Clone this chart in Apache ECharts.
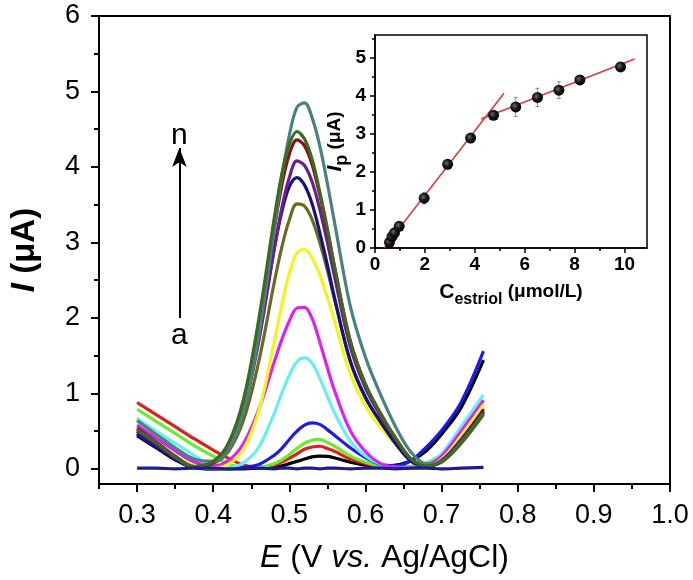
<!DOCTYPE html>
<html><head><meta charset="utf-8">
<script src="https://cdn.jsdelivr.net/npm/echarts@6/dist/echarts.min.js"></script>
<style>html,body{margin:0;padding:0;background:#fff}#c{width:693px;height:580px}</style>
</head><body><div id="c"></div>
<script>
// ---------- main chart data (E in V, I in µA) ----------
const potentials = [0.300,0.325,0.350,0.375,0.400,0.420,0.440,0.460,0.480,0.490,0.500,0.510,0.520,0.530,0.540,0.550,0.560,0.580,0.600,0.620,0.640,0.660,0.680,0.700,0.725,0.755];
const curve_a = [0.01,0.01,0.00,0.01,0.01,0.00,0.01,0.01,0.00,0.01,0.01,0.00,0.01,0.01,0.00,0.01,0.01,0.00,0.01,0.01,0.00,0.01,0.01,0.00,0.01,0.02];
const curve_b = [0.44,0.28,0.12,0.02,0.00,0.00,0.00,0.01,0.02,0.04,0.07,0.10,0.13,0.16,0.17,0.165,0.145,0.09,0.05,0.03,0.05,0.11,0.24,0.46,0.80,1.44];
const curve_c = [0.88,0.72,0.56,0.40,0.25,0.14,0.05,0.02,0.05,0.09,0.14,0.20,0.26,0.29,0.30,0.27,0.23,0.13,0.07,0.03,0.02,0.03,0.07,0.17,0.42,0.80];
const curve_d = [0.79,0.63,0.47,0.31,0.17,0.07,0.02,0.02,0.07,0.12,0.19,0.27,0.34,0.38,0.39,0.35,0.30,0.17,0.09,0.04,0.02,0.03,0.08,0.19,0.45,0.86];
const curve_e = [0.46,0.30,0.14,0.03,0.00,0.01,0.02,0.06,0.18,0.27,0.39,0.50,0.58,0.61,0.59,0.52,0.44,0.28,0.15,0.06,0.04,0.11,0.29,0.51,0.87,1.56];
const curve_f = [0.67,0.50,0.34,0.18,0.03,0.02,0.08,0.29,0.73,1.00,1.24,1.42,1.47,1.40,1.20,0.96,0.73,0.37,0.17,0.06,0.02,0.02,0.06,0.20,0.55,0.98];
const curve_g = [0.58,0.41,0.24,0.09,0.04,0.11,0.34,0.79,1.41,1.71,1.96,2.13,2.14,1.99,1.68,1.34,1.02,0.51,0.23,0.07,0.02,0.01,0.05,0.17,0.49,0.91];
const curve_h = [0.52,0.35,0.17,0.04,0.01,0.06,0.26,0.77,1.67,2.16,2.59,2.86,2.91,2.79,2.57,2.27,1.94,1.26,0.83,0.55,0.32,0.12,0.04,0.13,0.43,0.85];
const curve_i = [0.50,0.33,0.15,0.02,0.07,0.23,0.65,1.43,2.46,2.93,3.30,3.51,3.48,3.30,3.00,2.63,2.22,1.43,0.94,0.62,0.35,0.12,0.04,0.10,0.36,0.74];
const curve_j = [0.47,0.31,0.13,0.02,0.09,0.30,0.83,1.77,2.91,3.40,3.74,3.86,3.76,3.51,3.13,2.70,2.24,1.43,0.95,0.62,0.33,0.10,0.04,0.11,0.38,0.78];
const curve_k = [0.50,0.33,0.15,0.02,0.08,0.28,0.78,1.70,2.90,3.45,3.86,4.08,4.02,3.80,3.44,3.00,2.52,1.62,1.07,0.70,0.39,0.13,0.04,0.11,0.37,0.76];
const curve_l = [0.54,0.36,0.17,0.03,0.09,0.31,0.87,1.88,3.17,3.75,4.17,4.36,4.28,4.03,3.63,3.16,2.64,1.70,1.12,0.73,0.40,0.13,0.04,0.10,0.35,0.75];
const curve_m = [0.52,0.35,0.16,0.03,0.10,0.34,0.93,1.99,3.31,3.90,4.30,4.47,4.37,4.10,3.67,3.18,2.65,1.69,1.12,0.73,0.40,0.13,0.04,0.09,0.33,0.72];
const curve_n = [0.64,0.46,0.28,0.13,0.10,0.26,0.77,1.78,3.17,3.86,4.42,4.79,4.85,4.65,4.28,3.78,3.23,2.16,1.48,0.98,0.55,0.22,0.07,0.10,0.34,0.73];

const mainXTickLabels = [0.3,0.4,0.5,0.6,0.7,0.8,0.9,1.0];
const mainXMinorTicks = [0.25,0.35,0.45,0.55,0.65,0.75,0.85,0.95];
const mainYTickLabels = [0,1,2,3,4,5,6];
const mainYMinorTicks = [0.5,1.5,2.5,3.5,4.5,5.5];

// arrow annotation a -> n
const arrowE = 0.3556;
const arrowFromI = 2.0;
const arrowToI = 4.25;
const arrowTexts = [[0.3556, 4.42, 'n'], [0.3556, 1.76, 'a']];

// ---------- inset data ----------
const insetConc = [0.58,0.68,0.78,0.97,1.97,2.91,3.83,4.75,5.64,6.51,7.37,8.21,9.84];
const insetIp   = [0.15,0.30,0.40,0.57,1.31,2.20,2.89,3.49,3.71,3.96,4.15,4.42,4.76];
const insetErr  = [0.05,0.05,0.05,0.06,0.15,0.06,0.07,0.08,0.25,0.24,0.22,0.07,0.06];
const fitLow  = [[0.36,0.00],[5.17,4.07]];
const fitHigh = [[4.25,3.39],[10.4,4.97]];
const insetXTickLabels = [0,2,4,6,8,10];
const insetXMinorTicks = [1,3,5,7,9];
const insetYTickLabels = [0,1,2,3,4,5];
const insetYMinorTicks = [0.5,1.5,2.5,3.5,4.5,5.5];

// ---------- styles ----------
const FONT = "'Liberation Sans', Arial, sans-serif";
const curveColors = {
  a:'#1c1c8c', b:'#000000', c:'#e01e1e', d:'#66ee2e', e:'#1a1aee', f:'#66eef0',
  g:'#dd22ee', h:'#f4f41a', i:'#6b6b20', j:'#14147e', k:'#6c1e8a', l:'#7e1818',
  m:'#3d6b1e', n:'#4a8282'
};
const curves = {a:curve_a,b:curve_b,c:curve_c,d:curve_d,e:curve_e,f:curve_f,g:curve_g,
  h:curve_h,i:curve_i,j:curve_j,k:curve_k,l:curve_l,m:curve_m,n:curve_n};
const drawOrder = ['b','c','d','e','f','g','h','i','j','k','l','n','m','a'];

const chart = echarts.init(document.getElementById('c'), null, {renderer:'canvas'});

const series = drawOrder.map(key => ({
  name: key, type:'line', xAxisIndex:0, yAxisIndex:0,
  data: potentials.map((e, idx) => [e, curves[key][idx]]),
  showSymbol:false, symbol:'none', smooth:0.35,
  lineStyle:{color:curveColors[key], width:3.2},
  z: 3, silent:true
}));

series.push({
  type:'scatter', xAxisIndex:0, yAxisIndex:0, symbolSize:1, silent:true,
  data: arrowTexts,
  itemStyle:{color:'rgba(0,0,0,0)', opacity:1},
  label:{show:true, position:'inside', formatter:p=>p.data[2], fontSize:30, color:'#000', opacity:1, fontFamily:FONT},
  markLine:{
    silent:true, symbol:['none','arrow'], symbolSize:[11,19],
    lineStyle:{color:'#000', width:2, type:'solid', opacity:1},
    label:{show:false},
    data:[[{coord:[arrowE, arrowFromI]},{coord:[arrowE, arrowToI]}]]
  },
  z: 4
});

// inset fit lines
series.push({type:'line', xAxisIndex:2, yAxisIndex:2, data:fitLow, showSymbol:false, symbol:'none',
  lineStyle:{color:'#e03a3a', width:1.6}, z:6, silent:true});
series.push({type:'line', xAxisIndex:2, yAxisIndex:2, data:fitHigh, showSymbol:false, symbol:'none',
  lineStyle:{color:'#e03a3a', width:1.6}, z:6, silent:true});
// error bars
series.push({
  type:'custom', xAxisIndex:2, yAxisIndex:2, z:7, silent:true,
  data: insetConc.map((c,i)=>[c, insetIp[i], insetErr[i]]),
  renderItem:(params, api)=>{
    const x = api.value(0), y = api.value(1), e = api.value(2);
    const t = api.coord([x, y+e]), b = api.coord([x, y-e]);
    const st = {stroke:'#8a8a8a', lineWidth:1};
    return {type:'group', children:[
      {type:'line', shape:{x1:t[0],y1:t[1],x2:b[0],y2:b[1]}, style:st},
      {type:'line', shape:{x1:t[0]-2,y1:t[1],x2:t[0]+2,y2:t[1]}, style:st},
      {type:'line', shape:{x1:b[0]-2,y1:b[1],x2:b[0]+2,y2:b[1]}, style:st}
    ]};
  }
});
// points
series.push({
  type:'scatter', xAxisIndex:2, yAxisIndex:2, z:8, silent:true,
  data: insetConc.map((c,i)=>[c, insetIp[i]]),
  symbol:'circle', symbolSize:11,
  itemStyle:{opacity:1, color:{type:'radial', x:0.4, y:0.4, r:0.65, colorStops:[{offset:0,color:'#6a6a6a'},{offset:0.45,color:'#1a1a1a'},{offset:1,color:'#000'}]}}
});

const mainTickLabelStyle = {fontSize:27, color:'#000', fontFamily:FONT};
const insetTickLabelStyle = {fontSize:19, color:'#000', fontFamily:FONT, fontWeight:'bold'};

const option = {
  animation:false,
  backgroundColor:'#fff',
  grid:[
    {left:92, top:16, width:578, height:468, show:true, borderColor:'#000', borderWidth:2, backgroundColor:'transparent', z:0},
    {left:375, top:35, width:272, height:213, show:true, borderColor:'#000', borderWidth:1.5, backgroundColor:'#fff', z:0}
  ],
  xAxis:[
    {type:'value', gridIndex:0, position:'bottom', min:0.25, max:1.0, interval:0.05,
     axisLine:{show:true, onZero:false, lineStyle:{color:'#000', width:2}},
     axisTick:{show:true, inside:false, length:8, customValues:mainXTickLabels, lineStyle:{color:'#000', width:2}},
     axisLabel:{show:true, margin:18, customValues:mainXTickLabels, formatter:v=>Number(v).toFixed(1), ...mainTickLabelStyle},
     splitLine:{show:false},
     name:'{i|E} (V {i|vs.} Ag/AgCl)', nameLocation:'middle', nameGap:58,
     nameTextStyle:{fontSize:32, color:'#000', fontFamily:FONT,
       rich:{i:{fontStyle:'italic', fontSize:32, fontFamily:FONT, color:'#000'}}}},
    {type:'value', gridIndex:0, position:'bottom', min:0.25, max:1.0, interval:0.05,
     axisLine:{show:false, onZero:false},
     axisTick:{show:true, inside:false, length:5, customValues:mainXMinorTicks, lineStyle:{color:'#000', width:2}},
     axisLabel:{show:false}, splitLine:{show:false}},
    {type:'value', gridIndex:1, position:'bottom', min:0, max:10.9, interval:1,
     axisLine:{show:true, onZero:false, lineStyle:{color:'#000', width:1.5}},
     axisTick:{show:true, inside:false, length:5, customValues:insetXTickLabels, lineStyle:{color:'#000', width:1.5}},
     axisLabel:{show:true, margin:7, customValues:insetXTickLabels, ...insetTickLabelStyle},
     splitLine:{show:false},
     name:'{c|C}{s|estriol} {u|(μmol/L)}', nameLocation:'middle', nameGap:34,
     nameTextStyle:{color:'#000', fontFamily:FONT, fontSize:19, fontWeight:'bold',
       rich:{c:{fontSize:21, fontWeight:'bold', fontFamily:FONT, color:'#000', verticalAlign:'top', lineHeight:26},
             s:{fontSize:16, fontWeight:'bold', fontFamily:FONT, color:'#000', verticalAlign:'bottom', lineHeight:26, padding:[9,0,0,0]},
             u:{fontSize:19, fontWeight:'bold', fontFamily:FONT, color:'#000', verticalAlign:'top', lineHeight:26}}}},
    {type:'value', gridIndex:1, position:'bottom', min:0, max:10.9, interval:1,
     axisLine:{show:false, onZero:false},
     axisTick:{show:true, inside:false, length:3, customValues:insetXMinorTicks, lineStyle:{color:'#000', width:1.5}},
     axisLabel:{show:false}, splitLine:{show:false}}
  ],
  yAxis:[
    {type:'value', gridIndex:0, position:'left', min:-0.2, max:6, interval:0.5,
     axisLine:{show:true, onZero:false, lineStyle:{color:'#000', width:2}},
     axisTick:{show:true, inside:false, length:8, customValues:mainYTickLabels, lineStyle:{color:'#000', width:2}},
     axisLabel:{show:true, margin:19, customValues:mainYTickLabels, ...mainTickLabelStyle},
     splitLine:{show:false},
     name:'{i|I} (μA)', nameLocation:'middle', nameGap:58, nameRotate:90,
     nameTextStyle:{fontSize:33, color:'#000', fontFamily:FONT, fontWeight:'bold',
       rich:{i:{fontStyle:'italic', fontWeight:'bold', fontSize:33, fontFamily:FONT, color:'#000'}}}},
    {type:'value', gridIndex:0, position:'left', min:-0.2, max:6, interval:0.5,
     axisLine:{show:false, onZero:false},
     axisTick:{show:true, inside:false, length:5, customValues:mainYMinorTicks, lineStyle:{color:'#000', width:2}},
     axisLabel:{show:false}, splitLine:{show:false}},
    {type:'value', gridIndex:1, position:'left', min:0, max:5.6, interval:1,
     axisLine:{show:true, onZero:false, lineStyle:{color:'#000', width:1.5}},
     axisTick:{show:true, inside:false, length:5, customValues:insetYTickLabels, lineStyle:{color:'#000', width:1.5}},
     axisLabel:{show:true, margin:9, customValues:insetYTickLabels, ...insetTickLabelStyle},
     splitLine:{show:false},
     name:'{i|I}{s|p} {u|(μA)}', nameLocation:'middle', nameGap:24, nameRotate:90,
     nameTextStyle:{color:'#000', fontFamily:FONT, fontSize:19, fontWeight:'bold',
       rich:{i:{fontSize:21, fontStyle:'italic', fontWeight:'bold', fontFamily:FONT, color:'#000', verticalAlign:'top', lineHeight:26},
             s:{fontSize:18, fontWeight:'bold', fontFamily:FONT, color:'#000', verticalAlign:'bottom', lineHeight:26, padding:[8,0,0,0]},
             u:{fontSize:19, fontWeight:'bold', fontFamily:FONT, color:'#000', verticalAlign:'top', lineHeight:26}}}},
    {type:'value', gridIndex:1, position:'left', min:0, max:5.6, interval:1,
     axisLine:{show:false, onZero:false},
     axisTick:{show:true, inside:false, length:3, customValues:insetYMinorTicks, lineStyle:{color:'#000', width:1.5}},
     axisLabel:{show:false}, splitLine:{show:false}}
  ],
  series: series
};
chart.setOption(option);
</script>
</body></html>
